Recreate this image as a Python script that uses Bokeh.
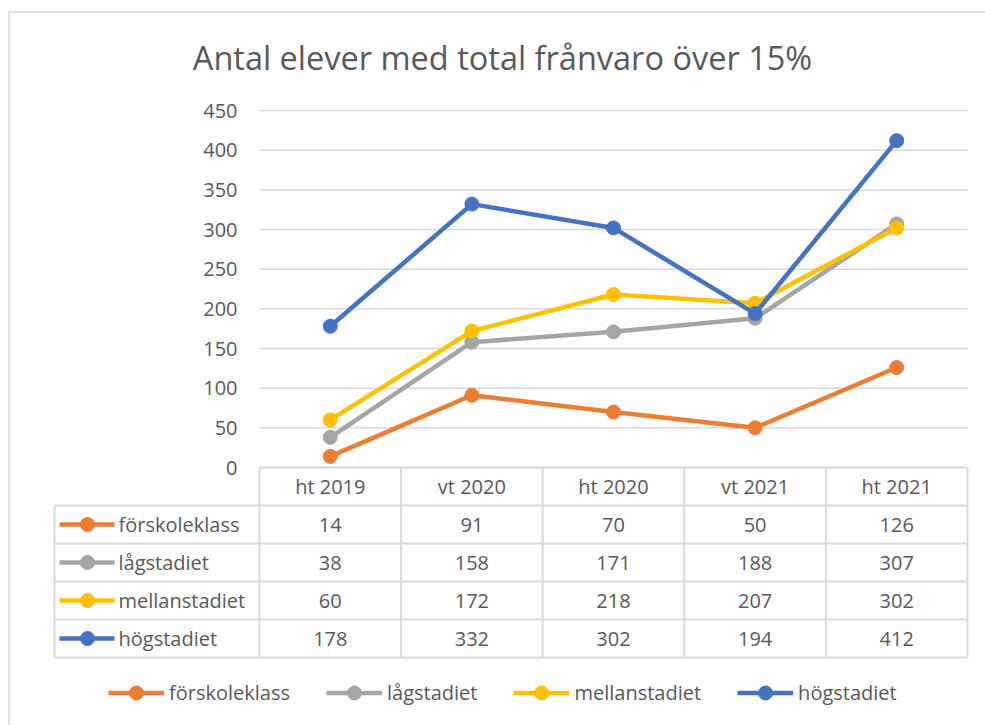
from bokeh.plotting import figure
from bokeh.models import Range1d, Legend, LegendItem, Label
from bokeh.core.properties import value
from bokeh.embed import file_html
from bokeh.resources import INLINE

# ---------------- data ----------------
categories = ["ht 2019", "vt 2020", "ht 2020", "vt 2021", "ht 2021"]
series_names = ["förskoleklass", "lågstadiet", "mellanstadiet", "högstadiet"]
forskoleklass = [14, 91, 70, 50, 126]
lagstadiet = [38, 158, 171, 188, 307]
mellanstadiet = [60, 172, 218, 207, 302]
hogstadiet = [178, 332, 302, 194, 412]
y_ticks = [0, 50, 100, 150, 200, 250, 300, 350, 400, 450]
title_text = "Antal elever med total frånvaro över 15%"

series_values = [forskoleklass, lagstadiet, mellanstadiet, hogstadiet]
colors = ["#ED7D31", "#A5A5A5", "#FFC000", "#4472C4"]

# ---------------- layout (canvas pixels) ----------------
W, H = 985, 725
PLOT_LEFT, PLOT_RIGHT = 259, 967
Y_ZERO, Y_TOP = 467, 110
TABLE_LEFT = 54
ROW_H = 38
YMAX = 450
TXT = "#595959"
GRID = "#d9d9d9"
FONT = value("Open Sans")

colw = (PLOT_RIGHT - PLOT_LEFT) / len(categories)
ppu = (Y_ZERO - Y_TOP) / YMAX


def px_x(cx):
    return (cx - PLOT_LEFT) / colw


def px_y(cy):
    return (Y_ZERO - cy) / ppu


p = figure(width=W, height=H, output_backend="svg", toolbar_location=None,
           x_axis_location=None, y_axis_location=None,
           x_range=Range1d(px_x(0), px_x(W)),
           y_range=Range1d(px_y(H), px_y(0)),
           min_border=0, outline_line_color=None,
           background_fill_color="white", border_fill_color="white")
p.grid.visible = False
p.extra_y_ranges = {"tbl": Range1d(-(H - Y_ZERO) / ROW_H, Y_ZERO / ROW_H)}

# outer chart frame (left and top edges)
p.segment(x0=[px_x(8.5), px_x(8)], y0=[px_y(11.5), px_y(11.5)],
          x1=[px_x(8.5), px_x(W)], y1=[px_y(H), px_y(11.5)],
          line_color=GRID, line_width=1.5)

# gridlines
n = len(categories)
p.segment(x0=[0] * len(y_ticks), x1=[n] * len(y_ticks), y0=y_ticks, y1=y_ticks,
          line_color=GRID, line_width=1.5)

# y tick labels
p.text(x=[0] * len(y_ticks), y=y_ticks, text=[str(t) for t in y_ticks],
       x_offset=-22, text_align="right", text_baseline="middle",
       text_color=TXT, text_font=FONT, text_font_size="20px")

# series
xs = [i + 0.5 for i in range(n)]
legend_items = []
for name, vals, col in zip(series_names, series_values, colors):
    lr = p.line(xs, vals, line_color=col, line_width=4.5, line_join="round")
    sr = p.scatter(xs, vals, size=14, marker="circle", fill_color=col, line_color=col)
    legend_items.append(LegendItem(label=name, renderers=[lr, sr]))

# ---------------- data table ----------------
nrows = len(series_names)
tl = px_x(TABLE_LEFT)
# horizontal lines
hx0 = [0] + [tl] * (nrows + 1)
hy = [0] + [-(k + 1) for k in range(nrows + 1)]
p.segment(x0=hx0, x1=[n] * len(hx0), y0=hy, y1=hy, line_color=GRID,
          line_width=2, y_range_name="tbl")
# vertical lines
vx = list(range(n + 1)) + [tl]
vy0 = [0] * (n + 1) + [-1]
p.segment(x0=vx, x1=vx, y0=vy0, y1=[-(nrows + 1)] * len(vx), line_color=GRID,
          line_width=2, y_range_name="tbl")
# header
p.text(x=xs, y=[-0.5] * n, text=categories, text_align="center",
       text_baseline="middle", text_color=TXT, text_font=FONT,
       text_font_size="20px", y_range_name="tbl")
# rows
for k, (name, vals, col) in enumerate(zip(series_names, series_values, colors)):
    yc = -(k + 1.5)
    p.text(x=xs, y=[yc] * n, text=[str(v) for v in vals], text_align="center",
           text_baseline="middle", text_color=TXT, text_font=FONT,
           text_font_size="20px", y_range_name="tbl")
    p.segment(x0=[px_x(59)], x1=[px_x(114)], y0=[yc], y1=[yc], line_color=col,
              line_width=4.5, y_range_name="tbl")
    p.scatter(x=[px_x(87)], y=[yc], size=14, marker="circle", fill_color=col,
              line_color=col, y_range_name="tbl")
    p.text(x=[px_x(118)], y=[yc], text=[name], text_align="left",
           text_baseline="middle", text_color=TXT, text_font=FONT,
           text_font_size="20px", y_range_name="tbl")

# ---------------- title ----------------
p.add_layout(Label(x=502, y=H - 57, x_units="screen", y_units="screen",
                   text=title_text, text_align="center", text_baseline="middle",
                   text_color=TXT, text_font="Open Sans", text_font_size="32.5px"))

# ---------------- legend ----------------
legend = Legend(items=legend_items, orientation="horizontal",
                location=(108, 15), glyph_width=56, glyph_height=35,
                label_height=35, label_standoff=5, spacing=36,
                padding=0, margin=0, border_line_color=None,
                background_fill_alpha=0, label_text_color=TXT,
                label_text_font="Open Sans", label_text_font_size="20px")
p.add_layout(legend)

open("out.html", "w").write(file_html(p, INLINE))
